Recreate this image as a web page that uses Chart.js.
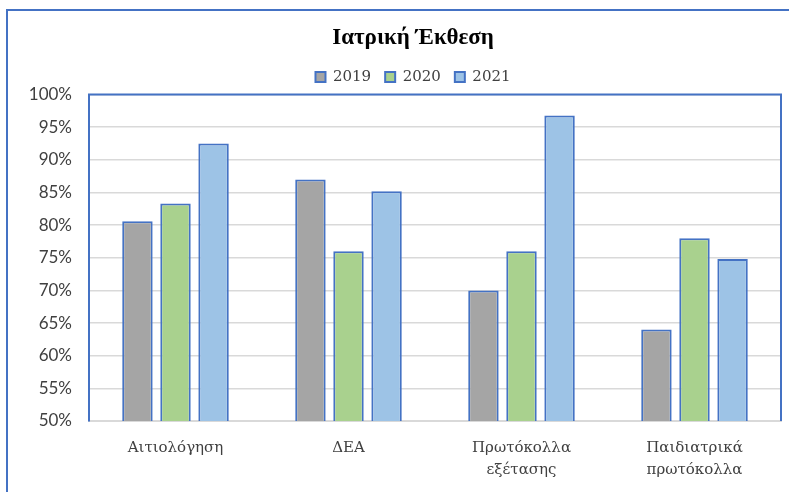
<!DOCTYPE html>
<html>
<head>
<meta charset="utf-8">
<script src="https://cdn.jsdelivr.net/npm/chart.js@4.4.0/dist/chart.umd.min.js"></script>
<style>
html,body{margin:0;background:#fff;overflow:hidden;width:789px;height:492px;}
#frame{position:absolute;left:6px;top:9px;width:900px;height:600px;border-left:2px solid #4472C4;border-top:2px solid #4472C4;}
#wrap{position:absolute;left:0;top:0;width:826px;height:492px;}
</style>
</head>
<body>
<div id="frame"></div>
<div id="wrap"><canvas id="grafico" width="826" height="492"></canvas></div>
<script>
// datos del gráfico
const categorias = ["Αιτιολόγηση", "ΔΕΑ", ["Πρωτόκολλα", "εξέτασης"], ["Παιδιατρικά", "πρωτόκολλα"]];
const anios = ["2019", "2020", "2021"];
const valores2019 = [80.6, 87.0, 70.0, 64.0];
const valores2020 = [83.3, 76.0, 76.0, 78.0];
const valores2021 = [92.5, 85.2, 96.8, 74.8];

const colores = ["#A5A5A5", "#A9D18E", "#9DC3E6"];
const borde = "#4472C4";

// marco del área de trazado (arriba, derecha)
const marcoPlot = {
    id: "marcoPlot",
    afterDraw(chart){
        const a = chart.chartArea;
        const c = chart.ctx;
        c.save();
        c.strokeStyle = borde;
        c.lineWidth = 2;
        c.beginPath();
        c.moveTo(a.left, a.bottom);
        c.lineTo(a.left, a.top);
        c.lineTo(a.right, a.top);
        c.lineTo(a.right, a.bottom);
        c.stroke();
        c.restore();
    }
};

const ctx = document.getElementById("grafico");

new Chart(ctx, {
    type: "bar",
    data: {
        labels: categorias,
        datasets: [
            { label: anios[0], data: valores2019, backgroundColor: colores[0] },
            { label: anios[1], data: valores2020, backgroundColor: colores[1] },
            { label: anios[2], data: valores2021, backgroundColor: colores[2] }
        ].map(d => Object.assign(d, {
            borderColor: borde,
            borderWidth: 2,
            categoryPercentage: 0.66,
            barPercentage: 0.8
        }))
    },
    options: {
        responsive: false,
        animation: false,
        layout: { padding: 0 },
        plugins: {
            title: {
                display: true,
                text: "Ιατρική Έκθεση",
                color: "#000",
                font: { family: "Liberation Serif", size: 23, weight: "bold" },
                padding: { top: 24, bottom: 4 }
            },
            legend: {
                position: "top",
                labels: {
                    color: "#404040",
                    font: { family: "DejaVu Serif", size: 15 },
                    boxWidth: 10,
                    boxHeight: 10,
                    padding: 14
                }
            },
            tooltip: { enabled: false }
        },
        scales: {
            x: {
                grid: { display: false, drawTicks: false },
                border: { color: "#D9D9D9", width: 2 },
                ticks: {
                    color: "#404040",
                    font: { family: "DejaVu Serif", size: 15, lineHeight: 1.45 },
                    padding: 16,
                    maxRotation: 0
                },
                afterFit(scale){ scale.height = 71; }
            },
            y: {
                min: 50,
                max: 100,
                grid: { color: "#D9D9D9", lineWidth: 1.5, drawTicks: false },
                border: { color: borde, width: 2 },
                ticks: {
                    stepSize: 5,
                    color: "#404040",
                    font: { family: "Lato", size: 17 },
                    padding: 17,
                    callback: v => v + "%"
                },
                afterFit(scale){ scale.width = 89; }
            },
            // eje vacío a la derecha: solo reserva espacio
            margen: {
                position: "right",
                min: 0,
                max: 1,
                grid: { display: false, drawTicks: false },
                border: { display: false },
                ticks: { display: false },
                afterFit(scale){ scale.width = 45; }
            }
        }
    },
    plugins: [marcoPlot]
});
</script>
</body>
</html>
